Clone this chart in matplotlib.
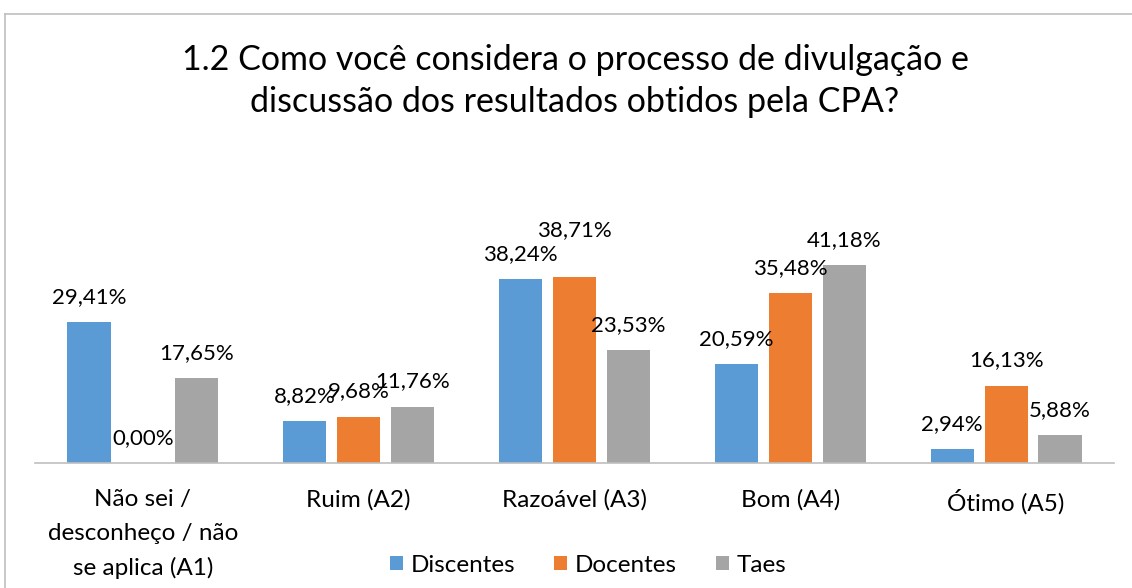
import matplotlib.pyplot as plt
import numpy as np
from matplotlib.lines import Line2D

plt.rcParams['font.family'] = ['Lato', 'DejaVu Sans']

categorias = ['Não sei /\ndesconheço / não\nse aplica (A1)', 'Ruim (A2)',
              'Razoável (A3)', 'Bom (A4)', 'Ótimo (A5)']
discentes = [29.41, 8.82, 38.24, 20.59, 2.94]
docentes = [0.00, 9.68, 38.71, 35.48, 16.13]
taes = [17.65, 11.76, 23.53, 41.18, 5.88]

series = [('Discentes', discentes, '#5B9BD5'),
          ('Docentes', docentes, '#ED7D31'),
          ('Taes', taes, '#A5A5A5')]

W, H = 1132, 588
fig = plt.figure(figsize=(W / 100, H / 100), dpi=100)
ax = fig.add_axes([35 / W, 125 / H, (1114 - 35) / W, (463 - 247) / H])

x = np.arange(len(categorias))
bw = 0.2
step = 0.25
for i, (nome, vals, cor) in enumerate(series):
    pos = x + (i - 1) * step
    ax.bar(pos, vals, width=bw, color=cor, label=nome)
    for j, (px, v) in enumerate(zip(pos, vals)):
        dy = 18
        # rotulo deslocado para cima para nao sobrepor (como no Excel)
        if nome == 'Docentes' and j == 2:
            dy = 34
        ax.annotate(f'{v:.2f}%'.replace('.', ','), (px, v), xytext=(0, dy),
                    textcoords='offset points', ha='center', va='center',
                    fontsize=16, color='#000000')

ax.set_xlim(-0.5, len(categorias) - 0.5)
ax.set_ylim(0, 45)
ax.set_yticks([])
for s in ['top', 'right', 'left']:
    ax.spines[s].set_visible(False)
ax.spines['bottom'].set_color('#BFBFBF')
ax.spines['bottom'].set_linewidth(1.2)
ax.set_xticks(x)
ax.set_xticklabels(categorias, fontsize=17.5, linespacing=1.72)
ax.tick_params(axis='x', length=0, pad=19)

fig.text(575 / W, 1 - 81 / H,
         '1.2 Como você considera o processo de divulgação e\n'
         'discussão dos resultados obtidos pela CPA?',
         ha='center', va='center', fontsize=24.5, linespacing=1.4)

fig.legend(loc='center', bbox_to_anchor=(588 / W, 1 - 565 / H), ncol=3,
           frameon=False, fontsize=17.5, handlelength=0.55, handleheight=0.55,
           columnspacing=1.6, handletextpad=0.3)

# borda do grafico
fig.add_artist(Line2D([5 / W, 5 / W], [0, 1 - 14 / H], color='#BFBFBF', lw=1.2))
fig.add_artist(Line2D([5 / W, 1], [1 - 14 / H, 1 - 14 / H], color='#BFBFBF', lw=1.2))

fig.savefig('out.png', dpi=100)
